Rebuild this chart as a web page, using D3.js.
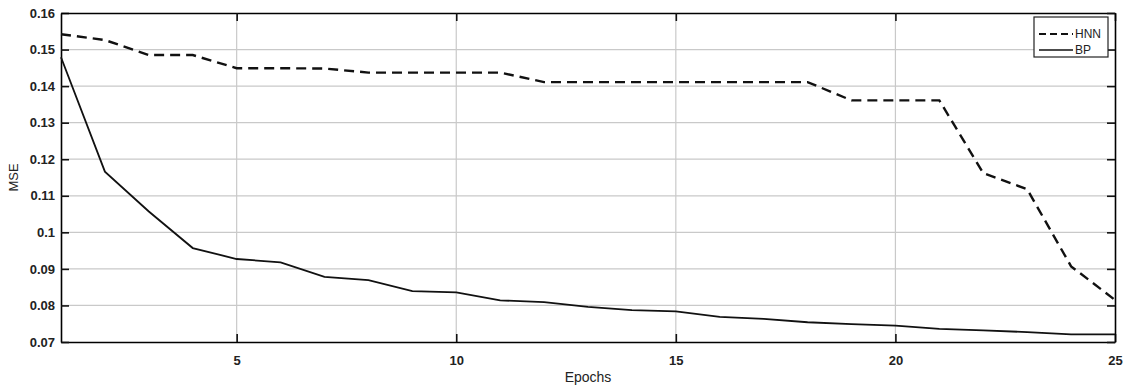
<!DOCTYPE html>
<html>
<head>
<meta charset="utf-8">
<script src="https://cdn.jsdelivr.net/npm/d3@7"></script>
<style>
  body { margin: 0; background: #fff; }
  svg { font-family: Arial, "Liberation Sans", sans-serif; }
</style>
</head>
<body>
<div class="chart"></div>
<script>
// data
var epochs = d3.range(1, 26);
var hnn = [0.1542, 0.1526, 0.1485, 0.1485, 0.1449, 0.1449, 0.1448, 0.1437, 0.1437, 0.1437,
           0.1437, 0.1411, 0.1411, 0.1411, 0.1411, 0.1411, 0.1411, 0.1411, 0.1361, 0.1361,
           0.1361, 0.1162, 0.1118, 0.0907, 0.0815];
var bp = [0.1479, 0.1166, 0.1057, 0.0957, 0.0927, 0.0918, 0.0878, 0.0869, 0.0839, 0.0836,
          0.0814, 0.0809, 0.0796, 0.0787, 0.0784, 0.0769, 0.0763, 0.0754, 0.0749, 0.0745,
          0.0736, 0.0732, 0.0727, 0.0721, 0.0721];
var xTicks = [5, 10, 15, 20, 25];
var yTicks = [0.07, 0.08, 0.09, 0.1, 0.11, 0.12, 0.13, 0.14, 0.15, 0.16];
var seriesNames = ['HNN', 'BP'];

var W = 1124, H = 387;
var margin = {top: 13, right: 9, bottom: 45, left: 61};
var w = W - margin.left - margin.right;
var h = H - margin.top - margin.bottom;

var svg = d3.select('.chart').append('svg')
  .attr('width', W)
  .attr('height', H);

var g = svg.append('g')
  .attr('transform', 'translate(' + margin.left + ',' + margin.top + ')');

var x = d3.scaleLinear().domain([1, 25]).range([0, w]);
var y = d3.scaleLinear().domain([0.07, 0.16]).range([h, 0]);

// grid
g.selectAll('.hgrid')
  .data(yTicks.slice(1, -1))
  .enter().append('line')
  .attr('x1', 0).attr('x2', w)
  .attr('y1', function(d) { return y(d); })
  .attr('y2', function(d) { return y(d); })
  .style('stroke', '#c9c9c9')
  .style('stroke-width', 1.2);

g.selectAll('.vgrid')
  .data(xTicks.slice(0, -1))
  .enter().append('line')
  .attr('y1', 0).attr('y2', h)
  .attr('x1', function(d) { return x(d); })
  .attr('x2', function(d) { return x(d); })
  .style('stroke', '#c9c9c9')
  .style('stroke-width', 1.2);

// axes (inner ticks on all four sides)
var fmtY = function(d) { return d3.format('.2~f')(d); };
var axBottom = g.append('g').attr('transform', 'translate(0,' + h + ')')
  .call(d3.axisBottom(x).tickValues(xTicks).tickSizeInner(-8).tickSizeOuter(0).tickPadding(14));
var axLeft = g.append('g')
  .call(d3.axisLeft(y).tickValues(yTicks).tickFormat(fmtY).tickSizeInner(-8).tickSizeOuter(0).tickPadding(6));
var axTop = g.append('g')
  .call(d3.axisTop(x).tickValues(xTicks).tickSizeInner(-8).tickSizeOuter(0).tickFormat(''));
var axRight = g.append('g').attr('transform', 'translate(' + w + ',0)')
  .call(d3.axisRight(y).tickValues(yTicks).tickSizeInner(-8).tickSizeOuter(0).tickFormat(''));

[axBottom, axLeft, axTop, axRight].forEach(function(a) {
  a.select('.domain').style('stroke', '#000').style('stroke-width', 1.6);
  a.selectAll('.tick line').style('stroke', '#111').style('stroke-width', 1.6);
  a.selectAll('.tick text')
    .style('font-size', '13px')
    .style('font-weight', 'bold')
    .style('fill', '#222');
});

// lines
var line = function(vals) {
  return d3.line()
    .x(function(d, i) { return x(epochs[i]); })
    .y(function(d) { return y(d); })(vals);
};

g.append('path')
  .attr('d', line(hnn))
  .style('fill', 'none')
  .style('stroke', '#111')
  .style('stroke-width', 2.4)
  .style('stroke-dasharray', '10,6');

g.append('path')
  .attr('d', line(bp))
  .style('fill', 'none')
  .style('stroke', '#111')
  .style('stroke-width', 1.8);

// labels
svg.append('text')
  .attr('x', margin.left + w / 2)
  .attr('y', 382)
  .attr('text-anchor', 'middle')
  .style('font-size', '14px')
  .style('fill', '#222')
  .text('Epochs');

svg.append('text')
  .attr('transform', 'translate(18,' + (margin.top + h / 2) + ') rotate(-90)')
  .attr('text-anchor', 'middle')
  .style('font-size', '13px')
  .style('fill', '#222')
  .text('MSE');

// legend
var lg = svg.append('g').attr('transform', 'translate(1034,17)');
lg.append('rect')
  .attr('width', 74).attr('height', 40)
  .style('fill', '#fff')
  .style('stroke', '#222')
  .style('stroke-width', 1.2);

lg.selectAll('.item')
  .data(seriesNames)
  .enter().append('line')
  .attr('x1', 5).attr('x2', 39)
  .attr('y1', function(d, i) { return 17 + i * 16; })
  .attr('y2', function(d, i) { return 17 + i * 16; })
  .style('stroke', '#111')
  .style('stroke-width', function(d, i) { return i === 0 ? 2 : 1.4; })
  .style('stroke-dasharray', function(d, i) { return i === 0 ? '7,4' : null; });

lg.selectAll('.lbl')
  .data(seriesNames)
  .enter().append('text')
  .attr('x', 41)
  .attr('y', function(d, i) { return 21 + i * 16; })
  .style('font-size', '12px')
  .style('fill', '#222')
  .text(function(d) { return d; });
</script>
</body>
</html>
